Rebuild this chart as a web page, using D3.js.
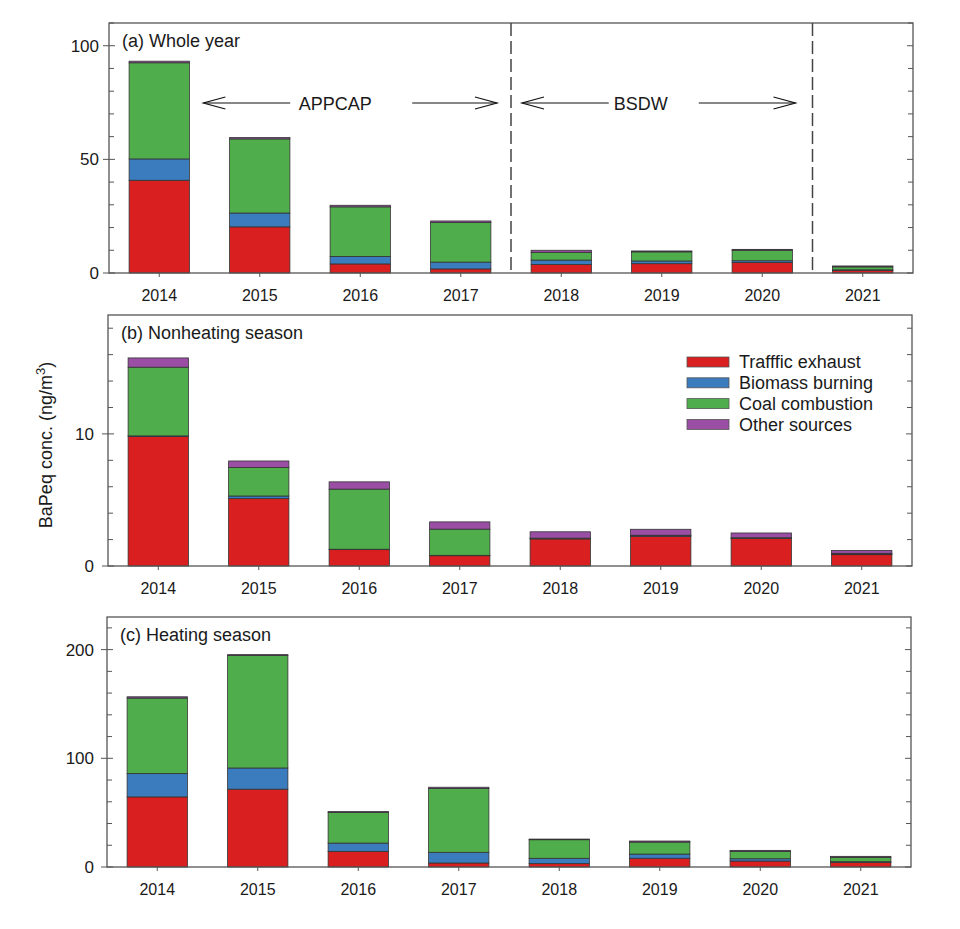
<!DOCTYPE html>
<html>
<head>
<meta charset="utf-8">
<script src="https://cdn.jsdelivr.net/npm/d3@7"></script>
<style>
  html, body { margin: 0; padding: 0; background: #fff; }
  svg text { font-family: "Liberation Sans", Arial, sans-serif; fill: #1a1a1a; }
</style>
</head>
<body>
<svg id="chart" width="960" height="929"></svg>
<script>
// ---------------- DATA ----------------
const years = ["2014", "2015", "2016", "2017", "2018", "2019", "2020", "2021"];
const sourceNames = ["Trafffic exhaust", "Biomass burning", "Coal combustion", "Other sources"];
const sourceColors = ["#d91f1f", "#3a7cbd", "#50ad4b", "#9a4fa5"];

// (a) Whole year
const wholeYearTraffic = [40.8, 20.3, 4.0, 1.8, 3.7, 4.1, 4.6, 1.1];
const wholeYearBiomass = [9.4, 6.1, 3.3, 3.0, 2.0, 1.2, 0.8, 0.3];
const wholeYearCoal    = [42.3, 32.6, 21.8, 17.4, 3.4, 4.0, 4.6, 1.3];
const wholeYearOther   = [0.7, 0.6, 0.7, 0.7, 0.9, 0.4, 0.4, 0.4];

// (b) Nonheating season
const nonheatingTraffic = [9.8, 5.1, 1.24, 0.78, 2.05, 2.25, 2.08, 0.86];
const nonheatingBiomass = [0.05, 0.2, 0.03, 0.03, 0.03, 0.04, 0.03, 0.05];
const nonheatingCoal    = [5.2, 2.15, 4.55, 1.98, 0.03, 0.04, 0.03, 0.05];
const nonheatingOther   = [0.7, 0.5, 0.55, 0.55, 0.48, 0.45, 0.36, 0.22];

// (c) Heating season
const heatingTraffic = [64.5, 71.6, 14.4, 3.7, 3.1, 8.0, 5.5, 4.3];
const heatingBiomass = [21.4, 19.5, 7.6, 9.8, 4.9, 3.9, 2.1, 0.6];
const heatingCoal    = [69.5, 103.4, 28.2, 58.7, 17.1, 11.0, 6.8, 4.0];
const heatingOther   = [1.2, 0.9, 0.9, 1.2, 0.6, 1.0, 0.9, 0.9];

// Axis tick values
const wholeYearMajorTicks = [0, 50, 100];
const nonheatingMajorTicks = [0, 10];
const heatingMajorTicks = [0, 100, 200];

// Policy periods (annotation)
const periodLabels = ["APPCAP", "BSDW"];
const periodBoundaries = ["2018", "2021"];

// ---------------- LAYOUT ----------------
const svg = d3.select("#chart");
const panels = [
  { title: "(a) Whole year", series: [wholeYearTraffic, wholeYearBiomass, wholeYearCoal, wholeYearOther],
    yMax: 110, minorStep: 10, majors: wholeYearMajorTicks, labelGap: 10,
    box: { left: 109, right: 913, top: 23, bottom: 273 }, periods: true },
  { title: "(b) Nonheating season", series: [nonheatingTraffic, nonheatingBiomass, nonheatingCoal, nonheatingOther],
    yMax: 19, minorStep: 2, majors: nonheatingMajorTicks, labelGap: 14,
    box: { left: 108, right: 912, top: 315, bottom: 566 }, legend: true },
  { title: "(c) Heating season", series: [heatingTraffic, heatingBiomass, heatingCoal, heatingOther],
    yMax: 230, minorStep: 20, majors: heatingMajorTicks, labelGap: 13,
    box: { left: 107, right: 911, top: 617, bottom: 867 } }
];

const frameColor = "#555";

panels.forEach(p => {
  const b = p.box;
  const g = svg.append("g");

  const x = d3.scaleBand().domain(years).range([b.left, b.right]).paddingInner(0.4).paddingOuter(0.2);
  const y = d3.scaleLinear().domain([0, p.yMax]).range([b.bottom, b.top]);

  const rows = years.map((yr, i) => {
    const r = { year: yr };
    sourceNames.forEach((s, k) => { r[s] = p.series[k][i]; });
    return r;
  });
  const stacked = d3.stack().keys(sourceNames)(rows);

  g.append("g").selectAll("g")
    .data(stacked)
    .join("g")
    .attr("fill", (d, k) => sourceColors[k])
    .selectAll("rect")
    .data(d => d)
    .join("rect")
    .attr("x", d => x(d.data.year))
    .attr("width", x.bandwidth())
    .attr("y", d => y(d[1]))
    .attr("height", d => Math.max(0, y(d[0]) - y(d[1])))
    .attr("stroke", "#333")
    .attr("stroke-width", 0.8);

  g.append("rect")
    .attr("x", b.left).attr("y", b.top)
    .attr("width", b.right - b.left).attr("height", b.bottom - b.top)
    .attr("fill", "none").attr("stroke", frameColor).attr("stroke-width", 1.3);

  const minors = d3.range(0, p.yMax + 1e-9, p.minorStep).filter(v => !p.majors.includes(v));
  g.append("g").selectAll("line").data(minors).join("line")
    .attr("x1", b.left).attr("x2", b.left + 5)
    .attr("y1", d => y(d)).attr("y2", d => y(d))
    .attr("stroke", frameColor).attr("stroke-width", 1);
  g.append("g").selectAll("line").data(minors).join("line")
    .attr("x1", b.right).attr("x2", b.right - 5)
    .attr("y1", d => y(d)).attr("y2", d => y(d))
    .attr("stroke", frameColor).attr("stroke-width", 1);
  g.append("g").selectAll("line").data(p.majors).join("line")
    .attr("x1", b.left - 6).attr("x2", b.left + 6)
    .attr("y1", d => y(d)).attr("y2", d => y(d))
    .attr("stroke", frameColor).attr("stroke-width", 1);
  g.append("g").selectAll("line").data(p.majors).join("line")
    .attr("x1", b.right).attr("x2", b.right - 6)
    .attr("y1", d => y(d)).attr("y2", d => y(d))
    .attr("stroke", frameColor).attr("stroke-width", 1);
  g.append("g").selectAll("text").data(p.majors).join("text")
    .attr("x", b.left - p.labelGap).attr("y", d => y(d))
    .attr("dy", "0.36em")
    .attr("text-anchor", "end")
    .attr("font-size", 17)
    .text(d => d);

  g.append("g").selectAll("line").data(years).join("line")
    .attr("x1", d => x(d) + x.bandwidth() / 2).attr("x2", d => x(d) + x.bandwidth() / 2)
    .attr("y1", b.bottom).attr("y2", b.bottom + 4)
    .attr("stroke", frameColor).attr("stroke-width", 1);
  g.append("g").selectAll("text").data(years).join("text")
    .attr("x", d => x(d) + x.bandwidth() / 2).attr("y", b.bottom + 28)
    .attr("text-anchor", "middle")
    .attr("font-size", 16)
    .text(d => d);

  g.append("text")
    .attr("x", b.left + 13).attr("y", b.top + 24)
    .attr("font-size", 18)
    .text(p.title);

  if (p.periods) {
    const step = x.step();
    const bandStart = yr => x(yr) - x.paddingInner() * step / 2;
    periodBoundaries.forEach(yr => {
      const xx = bandStart(yr);
      g.append("line")
        .attr("x1", xx).attr("x2", xx).attr("y1", b.top).attr("y2", b.bottom)
        .attr("stroke", "#444").attr("stroke-width", 1.5)
        .attr("stroke-dasharray", "13,5");
    });
    const ay = b.top + 80;
    const drawArrow = (xStart, xTip) => {
      g.append("line").attr("x1", xStart).attr("x2", xTip).attr("y1", ay).attr("y2", ay)
        .attr("stroke", "#111").attr("stroke-width", 1.2);
      const dir = Math.sign(xTip - xStart);
      g.append("path")
        .attr("d", `M${xTip - dir * 22},${ay - 6} L${xTip},${ay} L${xTip - dir * 22},${ay + 6}`)
        .attr("fill", "none").attr("stroke", "#111").attr("stroke-width", 1.2);
    };
    // annotation geometry: [left tip, right tip, text centre, left line end, right line start]
    const spans = [
      { l: x("2014") + x.bandwidth() + 14, r: bandStart("2018") - 14, tShift: -15, lGap: 45, rGap: 77 },
      { l: bandStart("2018") + 11, r: bandStart("2021") - 17, tShift: -18, lGap: 32, rGap: 58 }
    ];
    spans.forEach((s, i) => {
      const tc = (s.l + s.r) / 2 + s.tShift;
      drawArrow(tc - s.lGap, s.l);
      drawArrow(tc + s.rGap, s.r);
      g.append("text")
        .attr("x", tc).attr("y", ay + 6.5)
        .attr("text-anchor", "middle").attr("font-size", 18)
        .text(periodLabels[i]);
    });
  }

  if (p.legend) {
    const lg = g.append("g");
    sourceNames.forEach((s, k) => {
      const cy = b.top + 47 + k * 20.8;
      lg.append("rect")
        .attr("x", 687).attr("y", cy - 5).attr("width", 42).attr("height", 10)
        .attr("fill", sourceColors[k]).attr("stroke", "#555").attr("stroke-width", 0.8);
      lg.append("text")
        .attr("x", 739).attr("y", cy).attr("dy", "0.36em")
        .attr("font-size", 18).text(s);
    });
  }
});

const yl = svg.append("text")
  .attr("transform", "translate(52,445) rotate(-90)")
  .attr("text-anchor", "middle")
  .attr("font-size", 18);
yl.append("tspan").text("BaPeq conc. (ng/m");
yl.append("tspan").attr("baseline-shift", "super").attr("font-size", 13).text("3");
yl.append("tspan").text(")");
</script>
</body>
</html>
